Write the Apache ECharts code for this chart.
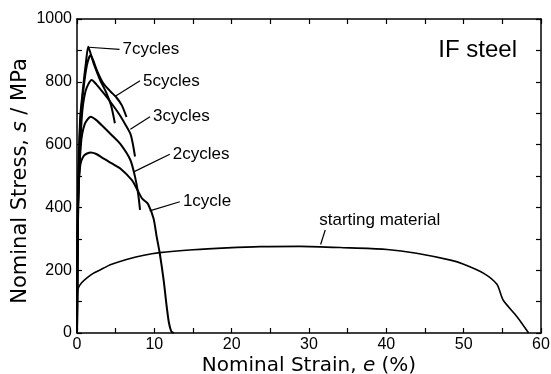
<!DOCTYPE html>
<html>
<head>
<meta charset="utf-8">
<script src="https://cdn.jsdelivr.net/npm/echarts@6/dist/echarts.min.js"></script>
<style>
html,body{margin:0;padding:0;background:#fff;}
#chart{width:551px;height:374px;}
</style>
</head>
<body>
<div id="chart"></div>
<script>
// ---- data (strain %, stress MPa) ----
const startingMaterial = [[0,0],[0.05,128],[0.2,145],[0.6,160],[1.25,175],[2.1,190],[3.4,206],[4.3,217],[6.4,234],[8.5,247],[10.7,256],[15,265],[19.4,271],[23.7,275],[28.8,276],[35.3,271],[40.1,266],[43.9,254],[48.3,232],[50,219],[52.6,190],[54.3,155],[55.1,105],[56.9,52],[58.4,0]];
const cycle1 = [[0,0],[0.12,400],[0.4,530],[0.9,565],[1.77,575],[2.5,570],[3.4,556],[4.5,540],[5.6,524],[7.1,487],[7.7,461],[8.4,429],[8.8,420],[9.2,410],[9.9,365],[10.3,307],[10.7,254],[11.2,169],[11.6,84],[11.9,31],[12.2,5],[12.5,0]];
const cycle2 = [[0,0],[0.15,400],[0.5,600],[1.0,665],[1.77,689],[2.5,678],[3.4,657],[4.5,630],[5.6,602],[6.9,551],[7.5,498],[7.9,445],[8.15,392]];
const cycle3 = [[0,0],[0.15,400],[0.6,680],[1.1,770],[1.9,806],[2.5,792],[3.5,762],[4.5,730],[5.5,695],[6.3,662],[6.9,635],[7.2,605],[7.5,562]];
const cycle5 = [[0,0],[0.12,400],[0.45,680],[0.9,790],[1.3,855],[1.75,885],[2.1,868],[2.6,835],[3.4,795],[4.3,770],[5.1,750],[5.8,725],[6.4,688]];
const cycle7 = [[0,0],[0.1,400],[0.4,680],[0.8,785],[1.15,860],[1.45,912],[1.7,895],[2.2,855],[3.0,805],[3.8,765],[4.4,725],[4.9,668]];

// annotation leaders: [from point, to point] and their text
const labelTexts = ['7cycles','5cycles','3cycles','2cycles','1cycle','starting material'];
const leaderLines = [
  [[1.5,910],[5.5,903]],
  [[4.9,753],[8.15,803]],
  [[6.9,649],[9.44,689]],
  [[7.4,514],[12.0,569]],
  [[9.4,389],[13.3,418]],
  [[31.5,282],[32.1,328]]
];

const xTicks = {min:0, max:60, interval:10};
const yTicks = {min:0, max:1000, interval:200};

// ---- chart ----
const chart = echarts.init(document.getElementById('chart'), null, {renderer:'canvas'});
const black = '#000';
const tickFont = 'Liberation Sans';
const nameFont = 'DejaVu Sans';

function baseAxis(extra){
  return Object.assign({
    type:'value',
    axisLine:{show:true, onZero:false, lineStyle:{color:black, width:1.5}},
    axisTick:{show:true, inside:true, length:5, lineStyle:{color:black, width:1.2}},
    minorTick:{show:true, splitNumber:2, length:5, lineStyle:{color:black, width:1.2}},
    splitLine:{show:false},
    minorSplitLine:{show:false}
  }, extra);
}

const curveSeries = [
  {name:'starting material', data:startingMaterial, w:1.6},
  {name:'1cycle', data:cycle1, w:2},
  {name:'2cycles', data:cycle2, w:2},
  {name:'3cycles', data:cycle3, w:2},
  {name:'5cycles', data:cycle5, w:2},
  {name:'7cycles', data:cycle7, w:2}
].map(s => ({
  type:'line', name:s.name, data:s.data, xAxisIndex:0, yAxisIndex:0,
  showSymbol:false, symbol:'none', smooth:0.25, silent:true,
  lineStyle:{color:black, width:s.w}
}));

const leaderSeries = leaderLines.map((pts, i) => {
  const isStart = labelTexts[i] === 'starting material';
  return {
    type:'line', xAxisIndex:0, yAxisIndex:0, symbol:'none', showSymbol:true, silent:true,
    symbolSize:0,
    lineStyle:{color:black, width:1.2},
    data:[
      {value:pts[0]},
      {value:pts[1], symbol:'circle', symbolSize:0.1,
       label:{show:true, formatter:labelTexts[i],
         position: isStart ? 'top' : 'right',
         distance: isStart ? 1 : 3,
         align: isStart ? 'left' : undefined,
         offset: isStart ? [-6,0] : [0,0],
         color:black, fontSize:17, fontFamily:tickFont}}
    ]
  };
});

const plainNum = v => String(v);

chart.setOption({
  animation:false,
  backgroundColor:'#fff',
  title:{text:'IF steel', right:29, top:33,
    textStyle:{fontSize:24, fontWeight:'normal', fontFamily:tickFont, color:black}},
  grid:{left:77, right:10, top:19, bottom:41, containLabel:false, outerBoundsMode:'none'},
  xAxis:[
    baseAxis(Object.assign({position:'bottom',
      name:'{n|Nominal Strain, }{i|e}{n| (%)}', nameLocation:'middle', nameGap:23,
      nameMoveOverlap:false,
      nameTextStyle:{rich:{
        n:{fontSize:20, fontFamily:nameFont, color:black},
        i:{fontSize:20, fontFamily:nameFont, fontStyle:'italic', color:black}}},
      axisLabel:{color:black, fontSize:16, fontFamily:tickFont, margin:4, formatter:plainNum}}, xTicks)),
    baseAxis(Object.assign({position:'top', axisLabel:{show:false}}, xTicks))
  ],
  yAxis:[
    baseAxis(Object.assign({position:'left',
      name:'{n|Nominal Stress, }{i|s}{n| / MPa}', nameLocation:'middle', nameGap:46,
      nameMoveOverlap:false,
      nameTextStyle:{padding:[0,10,0,0], rich:{
        n:{fontSize:21, fontFamily:nameFont, color:black},
        i:{fontSize:21, fontFamily:nameFont, fontStyle:'italic', color:black}}},
      axisLabel:{color:black, fontSize:16, fontFamily:tickFont, margin:5, formatter:plainNum}}, yTicks)),
    baseAxis(Object.assign({position:'right', axisLabel:{show:false}}, yTicks))
  ],
  series: curveSeries.concat(leaderSeries)
});
</script>
</body>
</html>
